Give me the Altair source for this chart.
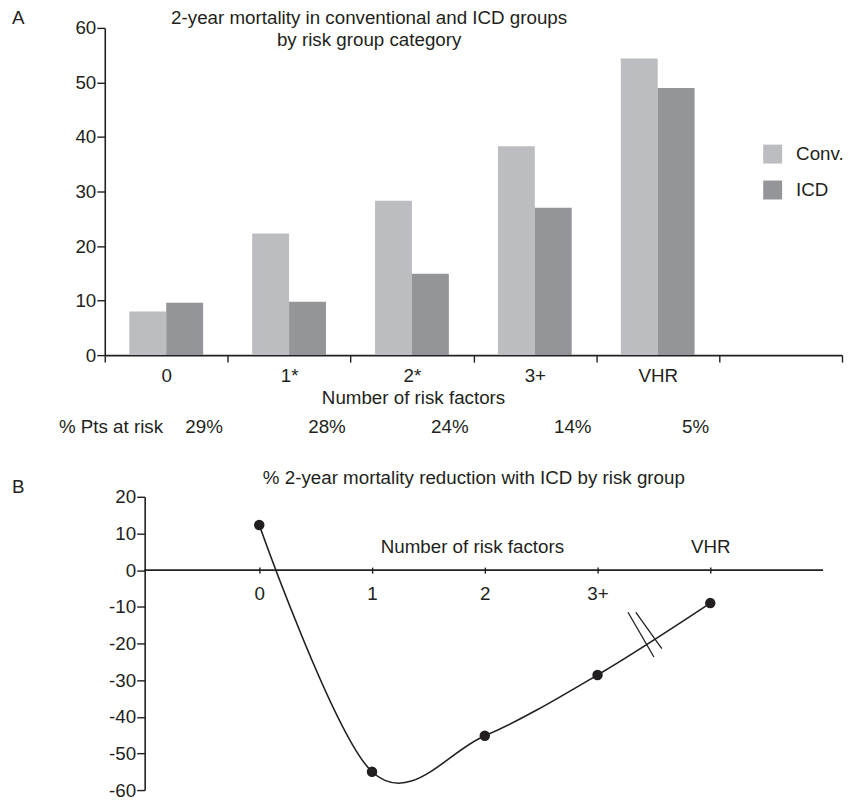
import altair as alt
import pandas as pd

FONT = "Liberation Sans"
INK = "#231f20"
FS = 18.8

# ---------------- data: panel A ----------------
categories = ["0", "1*", "2*", "3+", "VHR", ""]
groups = ["Conv.", "ICD"]
group_colors = ["#bcbdc1", "#939598"]
conv_vals = [8.0, 22.3, 28.3, 38.3, 54.4]
icd_vals = [9.6, 9.8, 14.9, 27.0, 49.0]
pts_at_risk = ["29%", "28%", "24%", "14%", "5%"]
a_ticks = [0, 10, 20, 30, 40, 50, 60]
title_a1 = "2-year mortality in conventional and ICD groups"
title_a2 = "by risk group category"

# ---------------- data: panel B ----------------
b_x = [0, 1, 2, 3, 4]
b_labels = ["0", "1", "2", "3+", "VHR"]
b_y = [12.3, -55.0, -45.2, -28.6, -9.0]
b_ticks = [20, 10, 0, -10, -20, -30, -40, -50, -60]
b_y_domain = [-60, 20]
b_x_domain = [-1.37, 5]      # plot area of panel B (shares its left edge with panel A)
b_axis_span = [-1.02, 5]     # where panel B's own axes start / end
break_x1 = [3.27, 3.34]
break_y1 = [-11.5, -11.5]
break_x2 = [3.50, 3.57]
break_y2 = [-23.7, -21.4]
title_b = "% 2-year mortality reduction with ICD by risk group"

W_A, H_A = 739, 328
W_B, H_B = 720, 294
PCT_Y = H_A + 72


def label_layer(text, x, y, align="left"):
    return alt.Chart(pd.DataFrame({"t": [text]})).mark_text(
        align=align, baseline="middle", fontSize=FS).encode(
        x=alt.value(x), y=alt.value(y), text="t:N")


# ---------------- panel A ----------------
n = len(conv_vals)
bars_df = pd.DataFrame({
    "cat": categories[:n] * 2,
    "group": [groups[0]] * n + [groups[1]] * n,
    "value": conv_vals + icd_vals,
})
pct_df = pd.DataFrame({"cat": categories[:n], "pct": pts_at_risk})

x_scale_a = alt.Scale(domain=categories, paddingInner=0, paddingOuter=0)
x_axis_a = alt.Axis(title="Number of risk factors", labelAngle=0, tickBand="extent",
                    tickSize=7, tickWidth=1.4, domainWidth=1.6,
                    labelBaseline="middle", labelPadding=13,
                    titleX=309, titleY=42, titleBaseline="middle", titleAlign="center")
y_a = alt.Y("value:Q", scale=alt.Scale(domain=[0, 60], nice=False),
            axis=alt.Axis(values=a_ticks, title=None, grid=False, tickSize=8,
                          labelPadding=1, domainWidth=1.6, tickWidth=1.4))

bars = alt.Chart(bars_df).mark_bar().encode(
    x=alt.X("cat:N", sort=categories, scale=x_scale_a, axis=x_axis_a),
    xOffset=alt.XOffset("group:N", sort=groups,
                        scale=alt.Scale(domain=groups, paddingInner=0, paddingOuter=0.665)),
    y=y_a,
    color=alt.Color("group:N", sort=groups,
                    scale=alt.Scale(domain=groups, range=group_colors),
                    legend=alt.Legend(orient="none", legendX=660, legendY=117, title=None,
                                      symbolType="square", symbolSize=361, symbolStrokeWidth=0,
                                      labelFontSize=FS, labelFont=FONT, labelColor=INK,
                                      labelOffset=14, rowPadding=16, padding=0)),
)

pct_text = alt.Chart(pct_df).mark_text(dx=38, baseline="middle", fontSize=FS).encode(
    x=alt.X("cat:N", sort=categories, scale=x_scale_a, axis=x_axis_a),
    y=alt.value(PCT_Y),
    text="pct:N",
)

panel_a = alt.layer(
    bars, pct_text,
    label_layer("% Pts at risk", -46, PCT_Y),
    label_layer("A", -93, -10),
    label_layer(title_a1, 265, -10, "center"),
    label_layer(title_a2, 265, 12, "center"),
).properties(width=W_A, height=H_A)

# ---------------- panel B ----------------
line_df = pd.DataFrame({"x": b_x, "y": b_y})
brk_df = pd.DataFrame({"x1": break_x1, "y1": break_y1, "x2": break_x2, "y2": break_y2})
zero_df = pd.DataFrame({"x1": [b_axis_span[0]], "x2": [b_axis_span[1]], "y": [0]})

x_scale_b = alt.Scale(domain=b_x_domain, nice=False, zero=False)
y_scale_b = alt.Scale(domain=b_y_domain, nice=False, zero=False)
# pixel distance from the top of panel B to its zero line
zero_px = H_B * b_y_domain[1] / (b_y_domain[1] - b_y_domain[0])
y_shift = round(W_B * (b_axis_span[0] - b_x_domain[0]) / (b_x_domain[1] - b_x_domain[0]))
y_axis_b = alt.Axis(values=b_ticks, title=None, grid=False, tickSize=8, offset=-y_shift,
                    labelExpr="'' + datum.value",
                    labelPadding=1, domainWidth=1.6, tickWidth=1.4)

lab_arr = "[" + ",".join("'%s'" % s for s in b_labels) + "]"
bottom_expr = "datum.value == %d ? '' : %s[datum.value]" % (b_x[-1], lab_arr)
top_expr = "datum.value == %d ? %s[datum.value] : ''" % (b_x[-1], lab_arr)

line = alt.Chart(line_df).mark_line(interpolate="cardinal", color=INK, strokeWidth=1.6).encode(
    x=alt.X("x:Q", scale=x_scale_b,
            axis=alt.Axis(orient="bottom", offset=-(H_B - zero_px), values=b_x,
                          labelExpr=bottom_expr, title=None, grid=False, domain=False,
                          tickSize=3, tickWidth=1.4,
                          labelBaseline="middle", labelPadding=20)),
    y=alt.Y("y:Q", scale=y_scale_b, axis=y_axis_b),
)
pts = alt.Chart(line_df).mark_circle(size=110, color=INK, opacity=1).encode(
    x=alt.X("x:Q", scale=x_scale_b,
            axis=alt.Axis(orient="top", offset=-zero_px, values=b_x, labelExpr=top_expr,
                          title="Number of risk factors", titleX=368, titleY=-24,
                          titleBaseline="middle", titleAlign="center",
                          grid=False, tickSize=3, tickWidth=1.4, domain=False,
                          labelBaseline="middle", labelPadding=21)),
    y=alt.Y("y:Q", scale=y_scale_b, axis=y_axis_b),
)
zero_line = alt.Chart(zero_df).mark_rule(color=INK, strokeWidth=1.6).encode(
    x=alt.X("x1:Q", scale=x_scale_b, axis=None),
    x2="x2:Q",
    y=alt.Y("y:Q", scale=y_scale_b, axis=y_axis_b),
)
brk = alt.Chart(brk_df).mark_rule(color=INK, strokeWidth=1.3).encode(
    x=alt.X("x1:Q", scale=x_scale_b, axis=None),
    y=alt.Y("y1:Q", scale=y_scale_b, axis=y_axis_b),
    x2="x2:Q",
    y2="y2:Q",
)

panel_b = alt.layer(
    zero_line, line, pts, brk,
    label_layer("B", -93, -10),
    label_layer(title_b, 370, -19, "center"),
).resolve_axis(x="independent").properties(width=W_B, height=H_B)

chart = alt.vconcat(panel_a, panel_b, spacing=32).properties(
    padding={"left": 4, "top": 0, "right": 0, "bottom": 0}
).configure_view(stroke=None).configure_axis(
    labelFont=FONT, titleFont=FONT, labelFontSize=FS, titleFontSize=FS,
    titleFontWeight="normal", labelColor=INK, titleColor=INK,
    domainColor=INK, tickColor=INK,
).configure_text(font=FONT, color=INK)

chart.save("out.html", embed_options={"renderer": "svg", "actions": False})
